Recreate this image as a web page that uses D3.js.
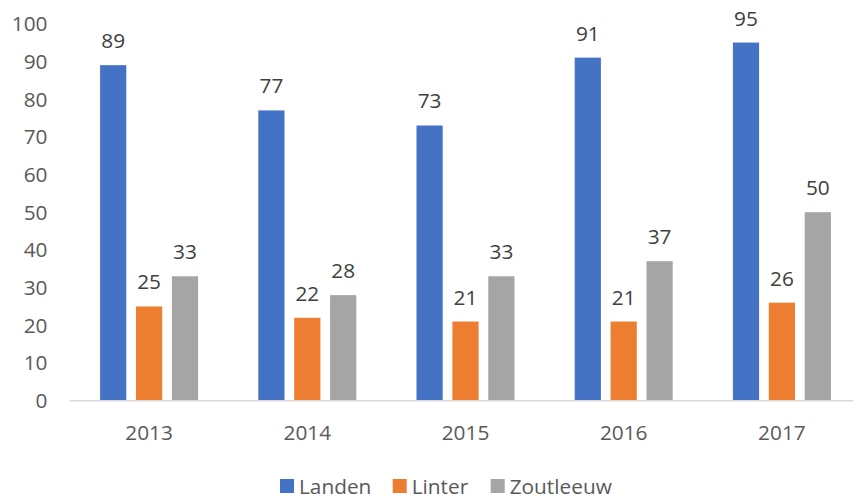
<!DOCTYPE html>
<html>
<head>
<meta charset="utf-8">
<script src="https://cdn.jsdelivr.net/npm/d3@7"></script>
<style>
  body { margin: 0; background: #fff; }
  text { font-family: "Open Sans", "Noto Sans", sans-serif; }
</style>
</head>
<body>
<script>
// data
var years = ["2013", "2014", "2015", "2016", "2017"];
var seriesNames = ["Landen", "Linter", "Zoutleeuw"];
var landen = [89, 77, 73, 91, 95];
var linter = [25, 22, 21, 21, 26];
var zoutleeuw = [33, 28, 33, 37, 50];
var yTicks = [0, 10, 20, 30, 40, 50, 60, 70, 80, 90, 100];
var colors = ["#4472C4", "#ED7D31", "#A5A5A5"];

var values = [landen, linter, zoutleeuw];

var width = 853, height = 502;
var fontSize = "20.8px";
var svg = d3.select("body").append("svg")
  .attr("width", width)
  .attr("height", height);

// scales
var x = d3.scaleBand()
  .domain(years)
  .range([70, 861])
  .paddingInner(0)
  .paddingOuter(0);

var groupW = 98;
var x1 = d3.scaleBand()
  .domain(seriesNames)
  .range([0, groupW])
  .paddingInner(0.27)
  .paddingOuter(0);

var y = d3.scaleLinear()
  .domain([0, 100])
  .range([400.7, 23.7]);

// y tick labels
svg.append("g").selectAll("text")
  .data(yTicks)
  .enter().append("text")
  .attr("x", 47.5)
  .attr("y", function(d) { return y(d); })
  .attr("dy", "0.36em")
  .attr("text-anchor", "end")
  .attr("fill", "#595959")
  .attr("font-size", fontSize)
  .text(function(d) { return d; });

// bars
var groups = svg.append("g").selectAll("g")
  .data(years)
  .enter().append("g")
  .attr("transform", function(d) {
    return "translate(" + (x(d) + x.bandwidth() / 2 - groupW / 2) + ",0)";
  });

seriesNames.forEach(function(s, si) {
  groups.append("rect")
    .attr("x", x1(s))
    .attr("width", x1.bandwidth())
    .attr("y", function(d, i) { return y(values[si][i]); })
    .attr("height", function(d, i) { return y(0) - y(values[si][i]); })
    .attr("fill", colors[si]);

  groups.append("text")
    .attr("x", x1(s) + x1.bandwidth() / 2)
    .attr("y", function(d, i) { return y(values[si][i]) - 17; })
    .attr("text-anchor", "middle")
    .attr("fill", "#404040")
    .attr("font-size", fontSize)
    .text(function(d, i) { return values[si][i]; });
});

// x axis line
svg.append("line")
  .attr("x1", 70).attr("x2", 861)
  .attr("y1", y(0)).attr("y2", y(0))
  .attr("stroke", "#D9D9D9")
  .attr("stroke-width", 1.5);

// x labels
svg.append("g").selectAll("text")
  .data(years)
  .enter().append("text")
  .attr("x", function(d) { return x(d) + x.bandwidth() / 2; })
  .attr("y", 440)
  .attr("text-anchor", "middle")
  .attr("fill", "#595959")
  .attr("font-size", fontSize)
  .text(function(d) { return d; });

// legend
var legendX = [280, 392.7, 490.7];
var legend = svg.append("g").selectAll("g")
  .data(seriesNames)
  .enter().append("g")
  .attr("transform", function(d, i) { return "translate(" + legendX[i] + ",479)"; });

legend.append("rect")
  .attr("width", 14).attr("height", 14)
  .attr("fill", function(d, i) { return colors[i]; });

legend.append("text")
  .attr("x", 19)
  .attr("y", 7)
  .attr("dy", "0.36em")
  .attr("fill", "#595959")
  .attr("font-size", fontSize)
  .text(function(d) { return d; });
</script>
</body>
</html>
